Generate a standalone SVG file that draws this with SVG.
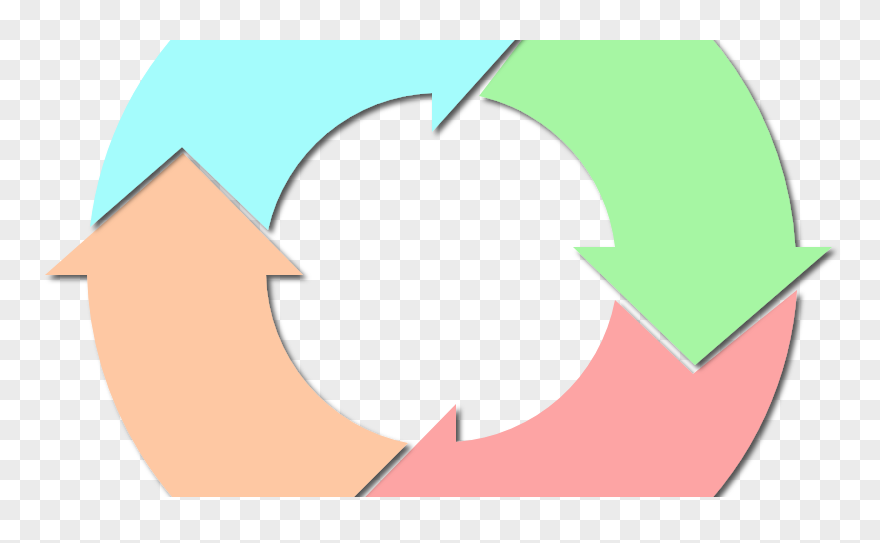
<svg xmlns="http://www.w3.org/2000/svg" width="880" height="543" viewBox="0 0 880 543">
  <defs>
    <pattern id="checker" x="0" y="0" width="40" height="40" patternUnits="userSpaceOnUse">
      <rect x="0" y="0" width="40" height="40" fill="#ffffff"/>
      <rect x="20" y="0" width="20" height="20" fill="#ebebeb"/>
      <rect x="0" y="20" width="20" height="20" fill="#ebebeb"/>
    </pattern>
    <clipPath id="band">
      <rect x="0" y="40" width="880" height="457"/>
    </clipPath>
    <filter id="shadow" x="-20%" y="-20%" width="140%" height="140%">
      <feDropShadow dx="4" dy="4" stdDeviation="2.5" flood-color="#000000" flood-opacity="0.65"/>
    </filter>
  </defs>
  <style>
    .arrow { filter: url(#shadow); }
    .pink { fill: #fda4a4; }
    .orange { fill: #fec8a3; }
    .green { fill: #a6f6a3; }
    .cyan { fill: #a4fcfc; }
  </style>
  <rect x="0" y="0" width="880" height="543" fill="url(#checker)"/>
  <g clip-path="url(#band)">
    <g id="arrow-pink">
      <path class="arrow pink" d="M 456,404 L 331,532 L 456,660 L 456,622 A 355 355 0 0 0 797,290 L 693,374 L 615,300 A 175 175 0 0 1 456,442 Z"/>
    </g>
    <g id="arrow-orange">
      <path class="arrow orange" d="M 45,275 L 183,153 L 303,275 L 266,275 A 175 175 0 0 0 408,443 L 272.7,578.3 A 355 355 0 0 1 87,275 Z"/>
    </g>
    <g id="arrow-green">
      <path class="arrow green" d="M 573,247 L 615,247 A 175 175 0 0 0 479,96 L 592.9,-52.9 A 355 355 0 0 1 795.4,247 L 832,247 L 695,365 Z"/>
    </g>
    <g id="arrow-cyan">
      <path class="arrow cyan" d="M 432,132 L 546,5 L 432,-122 L 432,-87 A 355 355 0 0 0 90,227 L 182,147 L 268,230 A 175 175 0 0 1 432,93 Z"/>
    </g>
  </g>
</svg>
